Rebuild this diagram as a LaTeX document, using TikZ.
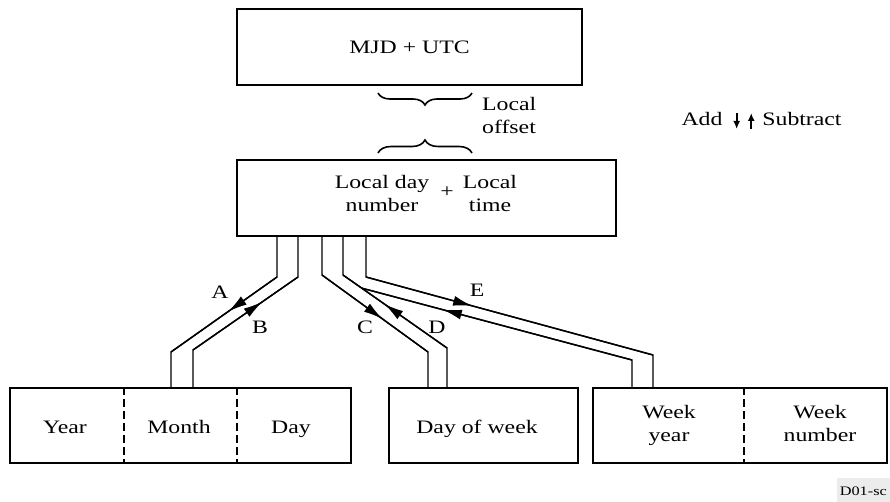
\documentclass[tikz,border=0pt]{standalone}
\usepackage{fontspec}
\setmainfont{Liberation Serif}[FakeStretch=1.25]
\usetikzlibrary{arrows.meta,calc,decorations.markings,decorations.pathreplacing}

\tikzset{
	box/.style={draw, line width=1.8pt, inner sep=0pt},
	txt/.style={font=\fontsize{19}{23}\selectfont, align=center, inner sep=0pt},
	pipe/.style={line width=1.4pt},
	divider/.style={line width=1.6pt, dash pattern=on 8pt off 4pt},
	arrowat/.style={postaction={decorate}, decoration={markings,
		mark=at position #1 with {\arrow{Latex[length=19pt,width=10pt]}}}},
	bracket/.style={line width=1.6pt, decorate}
}

\begin{document}
\begin{tikzpicture}[x=1pt,y=-1pt]
	\useasboundingbox (0,0) rectangle (890,502);
	
	% Kaesten
	\node[box, minimum width=345pt, minimum height=76pt] (utc) at (409.5,47) {};
	\node[txt] (utctext) at (409.5,47) {MJD + UTC};
	
	\node[box, minimum width=379pt, minimum height=76pt] (local) at (426.5,198) {};
	\node[txt] (ldn) at (382,194) {Local day\\number};
	\node[txt] (plus) at (447,192) {+};
	\node[txt] (ltm) at (490,194) {Local\\time};
	
	\node[box, minimum width=341pt, minimum height=75pt] (ymd) at (180.5,425.5) {};
	\node[box, minimum width=189pt, minimum height=75pt] (dow) at (483.5,425.5) {};
	\node[box, minimum width=294pt, minimum height=75pt] (wk) at (740,425.5) {};
	
	% Trennlinien
	\draw[divider] ([xshift=115pt]ymd.north west) -- ([xshift=115pt]ymd.south west);
	\draw[divider] ([xshift=228pt]ymd.north west) -- ([xshift=228pt]ymd.south west);
	\draw[divider] ([xshift=152pt]wk.north west) -- ([xshift=152pt]wk.south west);
	
	% Beschriftung unten
	\node[txt, anchor=base] (year) at (65,433) {Year};
	\node[txt, anchor=base] (month) at (179,433) {Month};
	\node[txt, anchor=base] (day) at (291,433) {Day};
	\node[txt, anchor=base] (dowtext) at (477,433) {Day of week};
	\node[txt, anchor=north] (wyear) at (669,405) {Week\\year};
	\node[txt, anchor=north] (wnum) at (820,405) {Week\\number};
	
	% Lokaler Versatz
	\draw[bracket, decoration={brace, mirror, amplitude=12pt}] (378,93) -- (472,93);
	\draw[bracket, decoration={brace, amplitude=13pt}] (378,153) -- (472,153);
	\node[txt, align=left, anchor=west] (offset) at (482,116) {Local\\offset};
	
	% Legende
	\node[txt] (add) at (702,119) {Add};
	\node[txt] (sub) at (802,119) {Subtract};
	\draw[line width=1.8pt, -{Latex[length=8pt,width=7pt]}] ([xshift=14pt,yshift=6pt]add.east) -- ([xshift=14pt,yshift=-10pt]add.east);
	\draw[line width=1.8pt, -{Latex[length=8pt,width=7pt]}] ([xshift=-11pt,yshift=-10pt]sub.west) -- ([xshift=-11pt,yshift=6pt]sub.west);
	
	% Knickpunkte
	\coordinate (a1) at (277,277);
	\coordinate (a2) at (171,352);
	\coordinate (b1) at (298,277);
	\coordinate (b2) at (193,350);
	\coordinate (c1) at (322,275);
	\coordinate (c2) at (428,352);
	\coordinate (d1) at (343,275);
	\coordinate (d2) at (447,348);
	\coordinate (e1) at (366,277);
	\coordinate (e2) at (653,355);
	\coordinate (f1) at ($(d1)!0.18!(d2)$);
	\coordinate (f2) at (632,360);
	
	% Verbindungen
	\draw[pipe] (local.south -| a1) -- (a1) -- (a2) -- (ymd.north -| a2);
	\draw[pipe] (local.south -| b1) -- (b1) -- (b2) -- (ymd.north -| b2);
	\draw[pipe] (local.south -| c1) -- (c1) -- (c2) -- (dow.north -| c2);
	\draw[pipe] (local.south -| d1) -- (d1) -- (d2) -- (dow.north -| d2);
	\draw[pipe] (local.south -| e1) -- (e1) -- (e2) -- (wk.north -| e2);
	\draw[pipe] (f1) -- (f2) -- (wk.north -| f2);
	
	% Pfeile
	\draw[pipe, arrowat=0.46] (a1) -- (a2);
	\draw[pipe, arrowat=0.66] (b2) -- (b1);
	\draw[pipe, arrowat=0.57] (c1) -- (c2);
	\draw[pipe, arrowat=0.60] (d2) -- (d1);
	\draw[pipe, arrowat=0.37] (e1) -- (e2);
	\draw[pipe, arrowat=0.70] (f2) -- (f1);
	
	\node[txt] (la) at (220,292) {A};
	\node[txt] (lb) at (260,327) {B};
	\node[txt] (lc) at (365,327) {C};
	\node[txt] (ld) at (437,327) {D};
	\node[txt] (le) at (477,290) {E};
	
	% Kennung
	\node[fill=gray!15, anchor=east, font=\fontsize{13}{15}\selectfont, inner xsep=3pt, minimum height=26pt, minimum width=52pt] (tag) at (890,491) {D01-sc};
\end{tikzpicture}
\end{document}
